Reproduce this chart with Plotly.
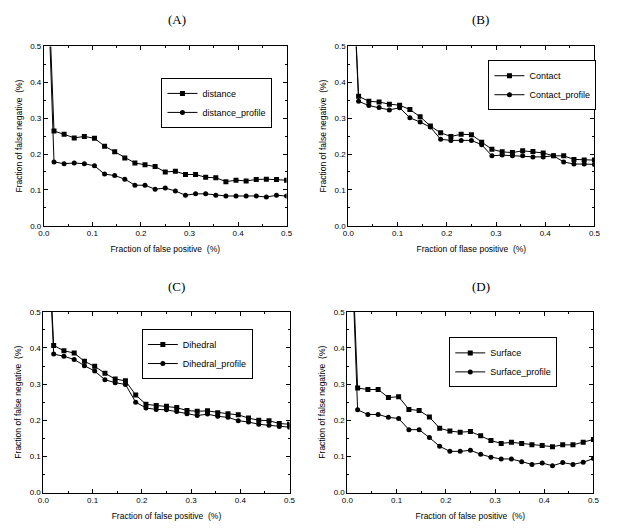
import plotly.graph_objects as go

# x positions: 0 then k/48 for k = 1..24
fp = [0.0] + [k / 48 for k in range(1, 25)]

distance = [1.0, 0.264, 0.255, 0.245, 0.249, 0.244, 0.222, 0.206, 0.189, 0.175, 0.170, 0.165, 0.150,
            0.152, 0.143, 0.143, 0.135, 0.134, 0.123, 0.127, 0.125, 0.129, 0.130, 0.129, 0.127]
distance_profile = [1.0, 0.178, 0.173, 0.175, 0.173, 0.167, 0.144, 0.140, 0.130, 0.113, 0.113, 0.102, 0.105,
                    0.097, 0.085, 0.089, 0.089, 0.085, 0.083, 0.083, 0.083, 0.083, 0.080, 0.085, 0.083]

contact = [1.0, 0.361, 0.347, 0.345, 0.339, 0.336, 0.324, 0.304, 0.278, 0.259, 0.249, 0.255, 0.254,
           0.233, 0.213, 0.206, 0.204, 0.209, 0.207, 0.203, 0.195, 0.195, 0.185, 0.183, 0.183]
contact_profile = [1.0, 0.347, 0.335, 0.330, 0.323, 0.329, 0.301, 0.289, 0.275, 0.241, 0.238, 0.238, 0.238,
                   0.226, 0.195, 0.197, 0.195, 0.195, 0.192, 0.192, 0.195, 0.178, 0.172, 0.172, 0.171]

dihedral = [1.0, 0.407, 0.392, 0.386, 0.363, 0.349, 0.330, 0.314, 0.309, 0.270, 0.244, 0.241, 0.239,
            0.235, 0.227, 0.225, 0.226, 0.221, 0.218, 0.215, 0.206, 0.200, 0.199, 0.191, 0.189]
dihedral_profile = [1.0, 0.383, 0.377, 0.368, 0.351, 0.336, 0.312, 0.304, 0.299, 0.250, 0.234, 0.230, 0.229,
                    0.224, 0.218, 0.213, 0.217, 0.211, 0.208, 0.199, 0.195, 0.189, 0.186, 0.183, 0.181]

surface = [1.0, 0.289, 0.285, 0.285, 0.263, 0.265, 0.230, 0.227, 0.209, 0.178, 0.170, 0.167, 0.169,
           0.157, 0.144, 0.136, 0.139, 0.136, 0.132, 0.130, 0.127, 0.132, 0.132, 0.139, 0.147]
surface_profile = [1.0, 0.229, 0.216, 0.216, 0.208, 0.205, 0.174, 0.174, 0.152, 0.128, 0.114, 0.114, 0.117,
                   0.106, 0.098, 0.093, 0.093, 0.085, 0.078, 0.082, 0.074, 0.083, 0.078, 0.084, 0.094]

panel_titles = ["(A)", "(B)", "(C)", "(D)"]
series_names = [("distance", "distance_profile"), ("Contact", "Contact_profile"),
                ("Dihedral", "Dihedral_profile"), ("Surface", "Surface_profile")]
series_values = [(distance, distance_profile), (contact, contact_profile),
                 (dihedral, dihedral_profile), (surface, surface_profile)]
x_titles = ["Fraction of false positive  (%)", "Fraction of flase positive  (%)",
            "Fraction of false positive  (%)", "Fraction of false positive  (%)"]
y_title = "Fraction of false negative  (%)"
tick_vals = [0.0, 0.1, 0.2, 0.3, 0.4, 0.5]
tick_text = ["0.0", "0.1", "0.2", "0.3", "0.4", "0.5"]

# the page body has an 8px margin, so the figure is drawn 8px in from the window corner
OFF = 8
W, H = 623 - OFF, 532 - OFF


def px(x):
    return (x - OFF) / W


def py(y):
    return 1 - (y - OFF) / H


# plot areas in window pixels: (left, right, top, bottom)
areas = [(38.5, 286, 43, 225.5), (349, 600, 43, 225.5), (38, 289, 313, 497), (348, 599, 313, 497)]
legend_center = [(215, 100.5), (547, 82.5), (195, 356), (507, 364.5)]
title_pos = [(174, 16), (484, 16), (174, 287), (484, 287)]

fig = go.Figure()
sans = "Liberation Sans"
layout = dict(width=W, height=H, margin=dict(l=0, r=0, t=0, b=0),
              paper_bgcolor="white", plot_bgcolor="white", showlegend=True,
              font=dict(family=sans, color="black", size=8), annotations=[])

for i in range(4):
    sfx = "" if i == 0 else str(i + 1)
    xa, ya = "x" + sfx, "y" + sfx
    lg = "legend" + sfx
    n1, n2 = series_names[i]
    v1, v2 = series_values[i]
    fig.add_trace(go.Scatter(x=fp, y=v1, name=n1, mode="lines+markers", xaxis=xa, yaxis=ya, legend=lg,
                             line=dict(color="black", width=1),
                             marker=dict(symbol="square", size=5, color="black")))
    fig.add_trace(go.Scatter(x=fp, y=v2, name=n2, mode="lines+markers", xaxis=xa, yaxis=ya, legend=lg,
                             line=dict(color="black", width=1),
                             marker=dict(symbol="circle", size=5, color="black")))
    l, r, t, b = areas[i]
    common = dict(range=[0, 0.5], tickvals=tick_vals, ticktext=tick_text, ticks="inside", ticklen=4,
                  tickcolor="black", showline=True, linecolor="black", linewidth=1, mirror="ticks",
                  showgrid=False, zeroline=False, tickfont=dict(family=sans, size=8, color="black"),
                  minor=dict(ticks="inside", dtick=0.05, ticklen=2, tickcolor="black", showgrid=False))
    layout["xaxis" + sfx] = dict(common, domain=[px(l), px(r)], anchor=ya,
                                 title=dict(text=x_titles[i], font=dict(family=sans, size=8.5), standoff=8))
    layout["yaxis" + sfx] = dict(common, domain=[py(b), py(t)], anchor=xa,
                                 title=dict(text=y_title, font=dict(family=sans, size=8.5), standoff=6))
    lx, ly = legend_center[i]
    layout[lg] = dict(x=px(lx), y=py(ly), xanchor="center", yanchor="middle", xref="paper", yref="paper",
                      bordercolor="black", borderwidth=1, bgcolor="white",
                      font=dict(family=sans, size=9, color="black"), itemwidth=30, tracegroupgap=0)
    tx, ty = title_pos[i]
    layout["annotations"].append(dict(text=panel_titles[i], x=px(tx), y=py(ty), xref="paper", yref="paper",
                                      showarrow=False, xanchor="center", yanchor="middle",
                                      font=dict(family="Liberation Serif", size=13, color="black")))

fig.update_layout(**layout)
fig.write_html("out.html")
